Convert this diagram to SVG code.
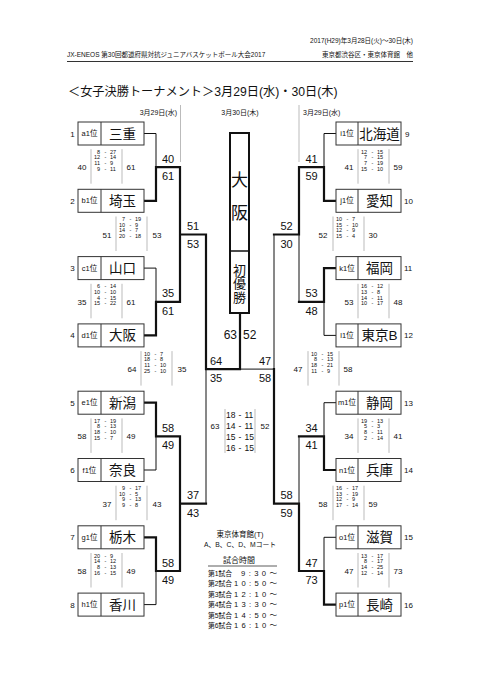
<svg xmlns="http://www.w3.org/2000/svg" xmlns:xlink="http://www.w3.org/1999/xlink" width="481" height="680" viewBox="0 0 481 680">
<style>
text{font-family:"Liberation Sans","Noto Sans CJK JP",sans-serif;fill:#111}
.c{fill:none;stroke:#111}
.tk{stroke-width:2.2;stroke-linecap:square}
.tn{stroke-width:1}
.gl{stroke:#bbb;stroke-width:1;fill:none}
.bl{stroke:#aaa;stroke-width:0.8;fill:none}
.bx{fill:#fff;stroke:#333;stroke-width:1}
.nm{font-size:13.5px;text-anchor:middle}
.lb{font-size:7.5px;text-anchor:middle}
.no{font-size:8px;text-anchor:middle}
.nr{font-size:8px;text-anchor:start}
.sc{font-size:11px;text-anchor:middle}
.bn{font-size:8px;text-anchor:middle}
.pl{font-size:5.5px;text-anchor:end}
.ph{font-size:5.5px;text-anchor:middle}
.pr{font-size:5.5px;text-anchor:start}
.fl{font-size:8.5px;text-anchor:end}
.fh{font-size:8.5px;text-anchor:middle}
.fr{font-size:8.5px;text-anchor:start}
.hd{font-size:6.5px}
.gm{font-size:6.8px}
.tm{font-size:7.6px}
</style>
<defs>
<path id="blk" class="bl" d="M-15.5 -18V16.5M15.5 -18V16.5"/>
<path id="blkf" class="bl" d="M-15 -16V28M15 -16V28"/>
</defs>

<g id="header">
<text class="hd" x="413" y="43" text-anchor="end">2017(H29)年3月28日(火)～30日(木)</text>
<text class="hd" x="67" y="57">JX-ENEOS 第30回都道府県対抗ジュニアバスケットボール大会2017</text>
<text class="hd" x="413" y="57" text-anchor="end">東京都渋谷区・東京体育館　他</text>
<line x1="67" y1="61.5" x2="413" y2="61.5" stroke="#333" stroke-width="1"/>
<text x="68" y="96" font-size="12.2">＜女子決勝トーナメント＞3月29日(水)・30日(木)</text>
<text x="177" y="115" font-size="7" text-anchor="end">3月29日(水)</text>
<text x="240" y="115" font-size="7" text-anchor="middle">3月30日(木)</text>
<text x="303" y="115" font-size="7">3月29日(水)</text>
<path class="gl" d="M180.5 105V162M299 105V162"/>
</g>

<g id="connectors">
<path class="c tn" d="M144 133.5H156V167.2M144 268.1H156V301.8M144 470H156V436.4M144 604.6H156V571M206 369.1V503.7"/>
<path class="c tk" d="M144 200.8H156V167.2H180V301.8H156V335.4H144M180 234.5H206V369.1H240V313M144 402.7H156V436.4H180V571H156V537.3H144M180 503.7H206"/>
<path class="c tn" d="M336 133.5H324V167.2M336 335.4H324V301.8M299 234.5V301.8M274 234.5V369.1H240M336 402.7H324V436.4M299 436.4V503.7M336 537.3H324V571"/>
<path class="c tk" d="M336 200.8H324V167.2H299V234.5H274M336 268.1H324V301.8H299M336 470H324V436.4H299M336 604.6H324V571H299V503.7H274V369.1"/>
</g>

<g id="teams-left">
<g id="t1" transform="translate(78,122)"><rect class="bx" width="66" height="23"/><line x1="23" y1="0" x2="23" y2="23" stroke="#333"/><text class="lb" x="11.5" y="14.2">a1位</text><text class="nm" x="44.5" y="16.5">三重</text><text class="no" x="-5.5" y="14.5">1</text></g>
<g id="t2" transform="translate(78,189.3)"><rect class="bx" width="66" height="23"/><line x1="23" y1="0" x2="23" y2="23" stroke="#333"/><text class="lb" x="11.5" y="14.2">b1位</text><text class="nm" x="44.5" y="16.5">埼玉</text><text class="no" x="-5.5" y="14.5">2</text></g>
<g id="t3" transform="translate(78,256.6)"><rect class="bx" width="66" height="23"/><line x1="23" y1="0" x2="23" y2="23" stroke="#333"/><text class="lb" x="11.5" y="14.2">c1位</text><text class="nm" x="44.5" y="16.5">山口</text><text class="no" x="-5.5" y="14.5">3</text></g>
<g id="t4" transform="translate(78,323.9)"><rect class="bx" width="66" height="23"/><line x1="23" y1="0" x2="23" y2="23" stroke="#333"/><text class="lb" x="11.5" y="14.2">d1位</text><text class="nm" x="44.5" y="16.5">大阪</text><text class="no" x="-5.5" y="14.5">4</text></g>
<g id="t5" transform="translate(78,391.2)"><rect class="bx" width="66" height="23"/><line x1="23" y1="0" x2="23" y2="23" stroke="#333"/><text class="lb" x="11.5" y="14.2">e1位</text><text class="nm" x="44.5" y="16.5">新潟</text><text class="no" x="-5.5" y="14.5">5</text></g>
<g id="t6" transform="translate(78,458.5)"><rect class="bx" width="66" height="23"/><line x1="23" y1="0" x2="23" y2="23" stroke="#333"/><text class="lb" x="11.5" y="14.2">f1位</text><text class="nm" x="44.5" y="16.5">奈良</text><text class="no" x="-5.5" y="14.5">6</text></g>
<g id="t7" transform="translate(78,525.8)"><rect class="bx" width="66" height="23"/><line x1="23" y1="0" x2="23" y2="23" stroke="#333"/><text class="lb" x="11.5" y="14.2">g1位</text><text class="nm" x="44.5" y="16.5">栃木</text><text class="no" x="-5.5" y="14.5">7</text></g>
<g id="t8" transform="translate(78,593.1)"><rect class="bx" width="66" height="23"/><line x1="23" y1="0" x2="23" y2="23" stroke="#333"/><text class="lb" x="11.5" y="14.2">h1位</text><text class="nm" x="44.5" y="16.5">香川</text><text class="no" x="-5.5" y="14.5">8</text></g>
</g>

<g id="teams-right">
<g id="t9" transform="translate(336,122)"><rect class="bx" width="65" height="23"/><line x1="22" y1="0" x2="22" y2="23" stroke="#333"/><text class="lb" x="11" y="14.2">i1位</text><text class="nm" x="43.5" y="16.5">北海道</text><text class="nr" x="69" y="14.5">9</text></g>
<g id="t10" transform="translate(336,189.3)"><rect class="bx" width="65" height="23"/><line x1="22" y1="0" x2="22" y2="23" stroke="#333"/><text class="lb" x="11" y="14.2">j1位</text><text class="nm" x="43.5" y="16.5">愛知</text><text class="nr" x="68" y="14.5">10</text></g>
<g id="t11" transform="translate(336,256.6)"><rect class="bx" width="65" height="23"/><line x1="22" y1="0" x2="22" y2="23" stroke="#333"/><text class="lb" x="11" y="14.2">k1位</text><text class="nm" x="43.5" y="16.5">福岡</text><text class="nr" x="68" y="14.5">11</text></g>
<g id="t12" transform="translate(336,323.9)"><rect class="bx" width="65" height="23"/><line x1="22" y1="0" x2="22" y2="23" stroke="#333"/><text class="lb" x="11" y="14.2">l1位</text><text class="nm" x="43.5" y="16.5">東京B</text><text class="nr" x="68" y="14.5">12</text></g>
<g id="t13" transform="translate(336,391.2)"><rect class="bx" width="65" height="23"/><line x1="22" y1="0" x2="22" y2="23" stroke="#333"/><text class="lb" x="11" y="14.2">m1位</text><text class="nm" x="43.5" y="16.5">静岡</text><text class="nr" x="68" y="14.5">13</text></g>
<g id="t14" transform="translate(336,458.5)"><rect class="bx" width="65" height="23"/><line x1="22" y1="0" x2="22" y2="23" stroke="#333"/><text class="lb" x="11" y="14.2">n1位</text><text class="nm" x="43.5" y="16.5">兵庫</text><text class="nr" x="68" y="14.5">14</text></g>
<g id="t15" transform="translate(336,525.8)"><rect class="bx" width="65" height="23"/><line x1="22" y1="0" x2="22" y2="23" stroke="#333"/><text class="lb" x="11" y="14.2">o1位</text><text class="nm" x="43.5" y="16.5">滋賀</text><text class="nr" x="68" y="14.5">15</text></g>
<g id="t16" transform="translate(336,593.1)"><rect class="bx" width="65" height="23"/><line x1="22" y1="0" x2="22" y2="23" stroke="#333"/><text class="lb" x="11" y="14.2">p1位</text><text class="nm" x="43.5" y="16.5">長崎</text><text class="nr" x="68" y="14.5">16</text></g>
</g>

<g id="champion">
<rect x="230" y="133" width="19" height="180" fill="#fff" stroke="#111" stroke-width="2"/>
<line x1="230" y1="251" x2="249" y2="251" stroke="#111" stroke-width="1.5"/>
<text x="239.5" y="186" font-size="17" text-anchor="middle">大</text>
<text x="239.5" y="219" font-size="17" text-anchor="middle">阪</text>
<text x="239.5" y="274.5" font-size="13" text-anchor="middle">初</text>
<text x="239.5" y="288" font-size="13" text-anchor="middle">優</text>
<text x="239.5" y="301.5" font-size="13" text-anchor="middle">勝</text>
</g>

<g id="junction-scores">
<text class="sc" x="168" y="162.7">40</text><text class="sc" x="168" y="180.2">61</text>
<text class="sc" x="168" y="297.3">35</text><text class="sc" x="168" y="314.8">61</text>
<text class="sc" x="168" y="431.9">58</text><text class="sc" x="168" y="449.4">49</text>
<text class="sc" x="168" y="566.5">58</text><text class="sc" x="168" y="584">49</text>
<text class="sc" x="193" y="230">51</text><text class="sc" x="193" y="247.5">53</text>
<text class="sc" x="193" y="499.2">37</text><text class="sc" x="193" y="516.7">43</text>
<text class="sc" x="216" y="364.6">64</text><text class="sc" x="216" y="382.1">35</text>
<text class="sc" x="311.5" y="162.7">41</text><text class="sc" x="311.5" y="180.2">59</text>
<text class="sc" x="311.5" y="297.3">53</text><text class="sc" x="311.5" y="314.8">48</text>
<text class="sc" x="311.5" y="431.9">34</text><text class="sc" x="311.5" y="449.4">41</text>
<text class="sc" x="311.5" y="566.5">47</text><text class="sc" x="311.5" y="584">73</text>
<text class="sc" x="286.5" y="230">52</text><text class="sc" x="286.5" y="247.5">30</text>
<text class="sc" x="286.5" y="499.2">58</text><text class="sc" x="286.5" y="516.7">59</text>
<text class="sc" x="265" y="364.6">47</text><text class="sc" x="265" y="382.1">58</text>
<text x="237" y="339" font-size="12" text-anchor="end">63</text><text x="243" y="339" font-size="12">52</text>
</g>

<g id="period-scores">
<g transform="translate(106.5,167.2)"><use xlink:href="#blk"/><text class="bn" x="-24.5" y="3">40</text><text class="bn" x="24.5" y="3">61</text>
<text class="pl" x="-6.5" y="-13.5">8</text><text class="ph" x="-1.2" y="-13.5">-</text><text class="pr" x="3.5" y="-13.5">27</text>
<text class="pl" x="-6.5" y="-8">12</text><text class="ph" x="-1.2" y="-8">-</text><text class="pr" x="3.5" y="-8">14</text>
<text class="pl" x="-6.5" y="-2.3">11</text><text class="ph" x="-1.2" y="-2.3">-</text><text class="pr" x="3.5" y="-2.3">9</text>
<text class="pl" x="-6.5" y="3.5">9</text><text class="ph" x="-1.2" y="3.5">-</text><text class="pr" x="3.5" y="3.5">11</text></g>
<g transform="translate(106.5,301.8)"><use xlink:href="#blk"/><text class="bn" x="-24.5" y="3">35</text><text class="bn" x="24.5" y="3">61</text>
<text class="pl" x="-6.5" y="-13.5">6</text><text class="ph" x="-1.2" y="-13.5">-</text><text class="pr" x="3.5" y="-13.5">14</text>
<text class="pl" x="-6.5" y="-8">10</text><text class="ph" x="-1.2" y="-8">-</text><text class="pr" x="3.5" y="-8">10</text>
<text class="pl" x="-6.5" y="-2.3">4</text><text class="ph" x="-1.2" y="-2.3">-</text><text class="pr" x="3.5" y="-2.3">15</text>
<text class="pl" x="-6.5" y="3.5">15</text><text class="ph" x="-1.2" y="3.5">-</text><text class="pr" x="3.5" y="3.5">22</text></g>
<g transform="translate(106.5,436.4)"><use xlink:href="#blk"/><text class="bn" x="-24.5" y="3">58</text><text class="bn" x="24.5" y="3">49</text>
<text class="pl" x="-6.5" y="-13.5">17</text><text class="ph" x="-1.2" y="-13.5">-</text><text class="pr" x="3.5" y="-13.5">19</text>
<text class="pl" x="-6.5" y="-8">8</text><text class="ph" x="-1.2" y="-8">-</text><text class="pr" x="3.5" y="-8">13</text>
<text class="pl" x="-6.5" y="-2.3">18</text><text class="ph" x="-1.2" y="-2.3">-</text><text class="pr" x="3.5" y="-2.3">10</text>
<text class="pl" x="-6.5" y="3.5">15</text><text class="ph" x="-1.2" y="3.5">-</text><text class="pr" x="3.5" y="3.5">7</text></g>
<g transform="translate(106.5,571)"><use xlink:href="#blk"/><text class="bn" x="-24.5" y="3">58</text><text class="bn" x="24.5" y="3">49</text>
<text class="pl" x="-6.5" y="-13.5">20</text><text class="ph" x="-1.2" y="-13.5">-</text><text class="pr" x="3.5" y="-13.5">9</text>
<text class="pl" x="-6.5" y="-8">14</text><text class="ph" x="-1.2" y="-8">-</text><text class="pr" x="3.5" y="-8">12</text>
<text class="pl" x="-6.5" y="-2.3">8</text><text class="ph" x="-1.2" y="-2.3">-</text><text class="pr" x="3.5" y="-2.3">13</text>
<text class="pl" x="-6.5" y="3.5">16</text><text class="ph" x="-1.2" y="3.5">-</text><text class="pr" x="3.5" y="3.5">15</text></g>
<g transform="translate(131.5,234.5)"><use xlink:href="#blk"/><text class="bn" x="-24.5" y="3">51</text><text class="bn" x="25.5" y="3">53</text>
<text class="pl" x="-6.5" y="-13.5">7</text><text class="ph" x="-1.2" y="-13.5">-</text><text class="pr" x="3.5" y="-13.5">19</text>
<text class="pl" x="-6.5" y="-8">10</text><text class="ph" x="-1.2" y="-8">-</text><text class="pr" x="3.5" y="-8">9</text>
<text class="pl" x="-6.5" y="-2.3">14</text><text class="ph" x="-1.2" y="-2.3">-</text><text class="pr" x="3.5" y="-2.3">7</text>
<text class="pl" x="-6.5" y="3.5">20</text><text class="ph" x="-1.2" y="3.5">-</text><text class="pr" x="3.5" y="3.5">18</text></g>
<g transform="translate(131.5,503.7)"><use xlink:href="#blk"/><text class="bn" x="-24.5" y="3">37</text><text class="bn" x="25.5" y="3">43</text>
<text class="pl" x="-6.5" y="-13.5">9</text><text class="ph" x="-1.2" y="-13.5">-</text><text class="pr" x="3.5" y="-13.5">17</text>
<text class="pl" x="-6.5" y="-8">10</text><text class="ph" x="-1.2" y="-8">-</text><text class="pr" x="3.5" y="-8">5</text>
<text class="pl" x="-6.5" y="-2.3">9</text><text class="ph" x="-1.2" y="-2.3">-</text><text class="pr" x="3.5" y="-2.3">13</text>
<text class="pl" x="-6.5" y="3.5">9</text><text class="ph" x="-1.2" y="3.5">-</text><text class="pr" x="3.5" y="3.5">8</text></g>
<g transform="translate(156.5,369.1)"><use xlink:href="#blk"/><text class="bn" x="-24.5" y="3">64</text><text class="bn" x="25.5" y="3">35</text>
<text class="pl" x="-6.5" y="-13.5">10</text><text class="ph" x="-1.2" y="-13.5">-</text><text class="pr" x="3.5" y="-13.5">7</text>
<text class="pl" x="-6.5" y="-8">18</text><text class="ph" x="-1.2" y="-8">-</text><text class="pr" x="3.5" y="-8">8</text>
<text class="pl" x="-6.5" y="-2.3">11</text><text class="ph" x="-1.2" y="-2.3">-</text><text class="pr" x="3.5" y="-2.3">10</text>
<text class="pl" x="-6.5" y="3.5">25</text><text class="ph" x="-1.2" y="3.5">-</text><text class="pr" x="3.5" y="3.5">10</text></g>
<g transform="translate(373.5,167.2)"><use xlink:href="#blk"/><text class="bn" x="-24.5" y="3">41</text><text class="bn" x="24.5" y="3">59</text>
<text class="pl" x="-6.5" y="-13.5">12</text><text class="ph" x="-1.2" y="-13.5">-</text><text class="pr" x="3.5" y="-13.5">15</text>
<text class="pl" x="-6.5" y="-8">7</text><text class="ph" x="-1.2" y="-8">-</text><text class="pr" x="3.5" y="-8">15</text>
<text class="pl" x="-6.5" y="-2.3">7</text><text class="ph" x="-1.2" y="-2.3">-</text><text class="pr" x="3.5" y="-2.3">19</text>
<text class="pl" x="-6.5" y="3.5">15</text><text class="ph" x="-1.2" y="3.5">-</text><text class="pr" x="3.5" y="3.5">10</text></g>
<g transform="translate(373.5,301.8)"><use xlink:href="#blk"/><text class="bn" x="-24.5" y="3">53</text><text class="bn" x="24.5" y="3">48</text>
<text class="pl" x="-6.5" y="-13.5">16</text><text class="ph" x="-1.2" y="-13.5">-</text><text class="pr" x="3.5" y="-13.5">12</text>
<text class="pl" x="-6.5" y="-8">13</text><text class="ph" x="-1.2" y="-8">-</text><text class="pr" x="3.5" y="-8">8</text>
<text class="pl" x="-6.5" y="-2.3">14</text><text class="ph" x="-1.2" y="-2.3">-</text><text class="pr" x="3.5" y="-2.3">11</text>
<text class="pl" x="-6.5" y="3.5">10</text><text class="ph" x="-1.2" y="3.5">-</text><text class="pr" x="3.5" y="3.5">17</text></g>
<g transform="translate(373.5,436.4)"><use xlink:href="#blk"/><text class="bn" x="-24.5" y="3">34</text><text class="bn" x="24.5" y="3">41</text>
<text class="pl" x="-6.5" y="-13.5">19</text><text class="ph" x="-1.2" y="-13.5">-</text><text class="pr" x="3.5" y="-13.5">13</text>
<text class="pl" x="-6.5" y="-8">5</text><text class="ph" x="-1.2" y="-8">-</text><text class="pr" x="3.5" y="-8">3</text>
<text class="pl" x="-6.5" y="-2.3">8</text><text class="ph" x="-1.2" y="-2.3">-</text><text class="pr" x="3.5" y="-2.3">11</text>
<text class="pl" x="-6.5" y="3.5">2</text><text class="ph" x="-1.2" y="3.5">-</text><text class="pr" x="3.5" y="3.5">14</text></g>
<g transform="translate(373.5,571)"><use xlink:href="#blk"/><text class="bn" x="-24.5" y="3">47</text><text class="bn" x="24.5" y="3">73</text>
<text class="pl" x="-6.5" y="-13.5">13</text><text class="ph" x="-1.2" y="-13.5">-</text><text class="pr" x="3.5" y="-13.5">17</text>
<text class="pl" x="-6.5" y="-8">8</text><text class="ph" x="-1.2" y="-8">-</text><text class="pr" x="3.5" y="-8">17</text>
<text class="pl" x="-6.5" y="-2.3">14</text><text class="ph" x="-1.2" y="-2.3">-</text><text class="pr" x="3.5" y="-2.3">25</text>
<text class="pl" x="-6.5" y="3.5">12</text><text class="ph" x="-1.2" y="3.5">-</text><text class="pr" x="3.5" y="3.5">14</text></g>
<g transform="translate(348.5,234.5)"><use xlink:href="#blk"/><text class="bn" x="-25.5" y="3">52</text><text class="bn" x="24.5" y="3">30</text>
<text class="pl" x="-6.5" y="-13.5">10</text><text class="ph" x="-1.2" y="-13.5">-</text><text class="pr" x="3.5" y="-13.5">7</text>
<text class="pl" x="-6.5" y="-8">15</text><text class="ph" x="-1.2" y="-8">-</text><text class="pr" x="3.5" y="-8">10</text>
<text class="pl" x="-6.5" y="-2.3">12</text><text class="ph" x="-1.2" y="-2.3">-</text><text class="pr" x="3.5" y="-2.3">9</text>
<text class="pl" x="-6.5" y="3.5">15</text><text class="ph" x="-1.2" y="3.5">-</text><text class="pr" x="3.5" y="3.5">4</text></g>
<g transform="translate(348.5,503.7)"><use xlink:href="#blk"/><text class="bn" x="-25.5" y="3">58</text><text class="bn" x="24.5" y="3">59</text>
<text class="pl" x="-6.5" y="-13.5">16</text><text class="ph" x="-1.2" y="-13.5">-</text><text class="pr" x="3.5" y="-13.5">17</text>
<text class="pl" x="-6.5" y="-8">13</text><text class="ph" x="-1.2" y="-8">-</text><text class="pr" x="3.5" y="-8">19</text>
<text class="pl" x="-6.5" y="-2.3">12</text><text class="ph" x="-1.2" y="-2.3">-</text><text class="pr" x="3.5" y="-2.3">9</text>
<text class="pl" x="-6.5" y="3.5">17</text><text class="ph" x="-1.2" y="3.5">-</text><text class="pr" x="3.5" y="3.5">14</text></g>
<g transform="translate(323.5,369.1)"><use xlink:href="#blk"/><text class="bn" x="-25.5" y="3">47</text><text class="bn" x="24.5" y="3">58</text>
<text class="pl" x="-6.5" y="-13.5">10</text><text class="ph" x="-1.2" y="-13.5">-</text><text class="pr" x="3.5" y="-13.5">15</text>
<text class="pl" x="-6.5" y="-8">8</text><text class="ph" x="-1.2" y="-8">-</text><text class="pr" x="3.5" y="-8">13</text>
<text class="pl" x="-6.5" y="-2.3">18</text><text class="ph" x="-1.2" y="-2.3">-</text><text class="pr" x="3.5" y="-2.3">21</text>
<text class="pl" x="-6.5" y="3.5">11</text><text class="ph" x="-1.2" y="3.5">-</text><text class="pr" x="3.5" y="3.5">9</text></g>
<g transform="translate(240,425)"><use xlink:href="#blkf"/><text class="bn" x="-25" y="3.5">63</text><text class="bn" x="25" y="3.5">52</text>
<text class="fl" x="-4.5" y="-7.5">18</text><text class="fh" x="0" y="-7.5">-</text><text class="fr" x="4.5" y="-7.5">11</text>
<text class="fl" x="-4.5" y="3.5">14</text><text class="fh" x="0" y="3.5">-</text><text class="fr" x="4.5" y="3.5">11</text>
<text class="fl" x="-4.5" y="14.5">15</text><text class="fh" x="0" y="14.5">-</text><text class="fr" x="4.5" y="14.5">15</text>
<text class="fl" x="-4.5" y="25.5">16</text><text class="fh" x="0" y="25.5">-</text><text class="fr" x="4.5" y="25.5">15</text></g>
</g>

<g id="legend">
<text x="240" y="537" font-size="7.5" text-anchor="middle">東京体育館(T)</text>
<text x="240" y="547" font-size="6.8" text-anchor="middle">A、B、C、D、Mコート</text>
<text x="239" y="563" font-size="8" text-anchor="middle">試合時間</text>
<line x1="208" y1="566" x2="277" y2="566" stroke="#333" stroke-width="0.8"/>
<text class="gm" x="208" y="575.5">第1試合</text><text class="tm" x="241" y="575.5" textLength="36" lengthAdjust="spacing">9:30～</text>
<text class="gm" x="208" y="586">第2試合</text><text class="tm" x="234" y="586" textLength="43" lengthAdjust="spacing">10:50～</text>
<text class="gm" x="208" y="596.5">第3試合</text><text class="tm" x="234" y="596.5" textLength="43" lengthAdjust="spacing">12:10～</text>
<text class="gm" x="208" y="607">第4試合</text><text class="tm" x="234" y="607" textLength="43" lengthAdjust="spacing">13:30～</text>
<text class="gm" x="208" y="617.5">第5試合</text><text class="tm" x="234" y="617.5" textLength="43" lengthAdjust="spacing">14:50～</text>
<text class="gm" x="208" y="628">第6試合</text><text class="tm" x="234" y="628" textLength="43" lengthAdjust="spacing">16:10～</text>
</g>
</svg>
